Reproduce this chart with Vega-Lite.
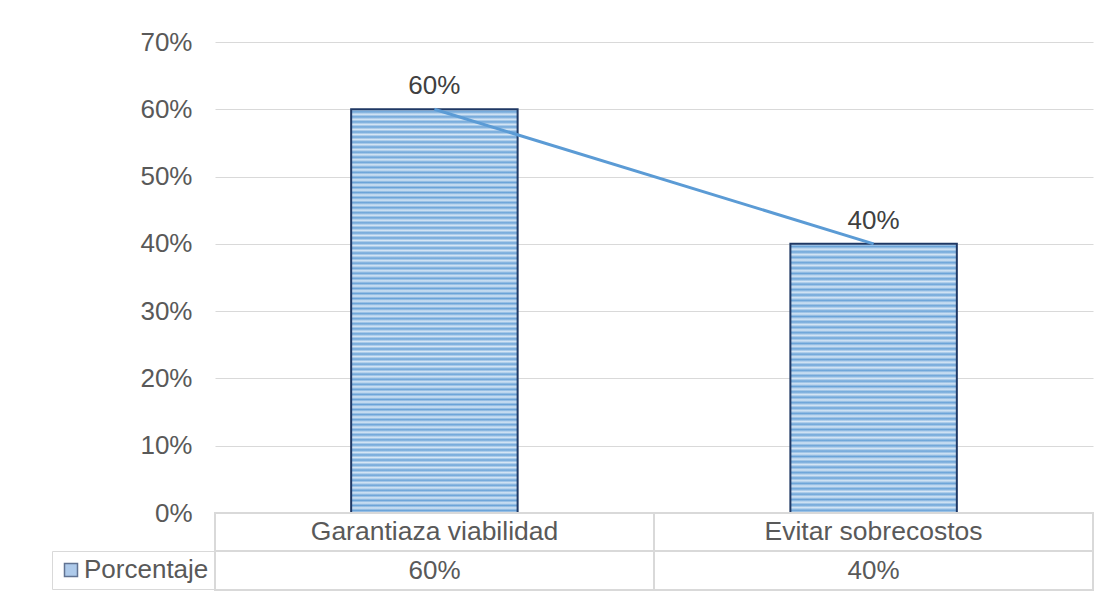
{
  "$schema": "https://vega.github.io/schema/vega-lite/v6.json",
  "background": "white",
  "padding": {"left": 51, "top": 29, "right": 20, "bottom": 4},
  "bounds": "flush",
  "spacing": 0,
  "resolve": {"legend": {"shape": "independent"}},
  "data": {"values": [
    {"categoria": "Garantiaza viabilidad", "valor": 0.6},
    {"categoria": "Evitar sobrecostos", "valor": 0.4}
  ]},
  "config": {"view": {"stroke": null}, "font": "Liberation Sans"},
  "vconcat": [
    {
      "width": 878,
      "height": 471,
      "encoding": {
        "x": {"field": "categoria", "type": "nominal", "sort": null,
              "scale": {"paddingInner": 0.621, "paddingOuter": 0.31}, "axis": null},
        "y": {"field": "valor", "type": "quantitative",
              "scale": {"domain": [0, 0.7]},
              "axis": {"values": [0, 0.1, 0.2, 0.3, 0.4, 0.5, 0.6, 0.7], "format": ".0%",
                       "grid": true, "gridColor": "#D9D9D9", "gridWidth": 1,
                       "domain": false, "ticks": false, "labelPadding": 23,
                       "labelFontSize": 26, "labelColor": "#595959", "title": null}}
      },
      "layer": [
        {"transform": [{"filter": "datum.valor == 0.6"}],
         "mark": {"type": "bar", "stroke": "#1F3864", "strokeWidth": 2,
                  "fill": {"gradient": "linear", "x1": 0, "y1": 0, "x2": 0, "y2": 1, "stops": [
{"offset":0,"color":"#D6E6F5"},{"offset":0.00625,"color":"#6AA3D8"},{"offset":0.0125,"color":"#D6E6F5"},{"offset":0.01875,"color":"#6AA3D8"},
{"offset":0.025,"color":"#D6E6F5"},{"offset":0.03125,"color":"#6AA3D8"},{"offset":0.0375,"color":"#D6E6F5"},{"offset":0.04375,"color":"#6AA3D8"},
{"offset":0.05,"color":"#D6E6F5"},{"offset":0.05625,"color":"#6AA3D8"},{"offset":0.0625,"color":"#D6E6F5"},{"offset":0.06875,"color":"#6AA3D8"},
{"offset":0.075,"color":"#D6E6F5"},{"offset":0.08125,"color":"#6AA3D8"},{"offset":0.0875,"color":"#D6E6F5"},{"offset":0.09375,"color":"#6AA3D8"},
{"offset":0.1,"color":"#D6E6F5"},{"offset":0.10625,"color":"#6AA3D8"},{"offset":0.1125,"color":"#D6E6F5"},{"offset":0.11875,"color":"#6AA3D8"},
{"offset":0.125,"color":"#D6E6F5"},{"offset":0.13125,"color":"#6AA3D8"},{"offset":0.1375,"color":"#D6E6F5"},{"offset":0.14375,"color":"#6AA3D8"},
{"offset":0.15,"color":"#D6E6F5"},{"offset":0.15625,"color":"#6AA3D8"},{"offset":0.1625,"color":"#D6E6F5"},{"offset":0.16875,"color":"#6AA3D8"},
{"offset":0.175,"color":"#D6E6F5"},{"offset":0.18125,"color":"#6AA3D8"},{"offset":0.1875,"color":"#D6E6F5"},{"offset":0.19375,"color":"#6AA3D8"},
{"offset":0.2,"color":"#D6E6F5"},{"offset":0.20625,"color":"#6AA3D8"},{"offset":0.2125,"color":"#D6E6F5"},{"offset":0.21875,"color":"#6AA3D8"},
{"offset":0.225,"color":"#D6E6F5"},{"offset":0.23125,"color":"#6AA3D8"},{"offset":0.2375,"color":"#D6E6F5"},{"offset":0.24375,"color":"#6AA3D8"},
{"offset":0.25,"color":"#D6E6F5"},{"offset":0.25625,"color":"#6AA3D8"},{"offset":0.2625,"color":"#D6E6F5"},{"offset":0.26875,"color":"#6AA3D8"},
{"offset":0.275,"color":"#D6E6F5"},{"offset":0.28125,"color":"#6AA3D8"},{"offset":0.2875,"color":"#D6E6F5"},{"offset":0.29375,"color":"#6AA3D8"},
{"offset":0.3,"color":"#D6E6F5"},{"offset":0.30625,"color":"#6AA3D8"},{"offset":0.3125,"color":"#D6E6F5"},{"offset":0.31875,"color":"#6AA3D8"},
{"offset":0.325,"color":"#D6E6F5"},{"offset":0.33125,"color":"#6AA3D8"},{"offset":0.3375,"color":"#D6E6F5"},{"offset":0.34375,"color":"#6AA3D8"},
{"offset":0.35,"color":"#D6E6F5"},{"offset":0.35625,"color":"#6AA3D8"},{"offset":0.3625,"color":"#D6E6F5"},{"offset":0.36875,"color":"#6AA3D8"},
{"offset":0.375,"color":"#D6E6F5"},{"offset":0.38125,"color":"#6AA3D8"},{"offset":0.3875,"color":"#D6E6F5"},{"offset":0.39375,"color":"#6AA3D8"},
{"offset":0.4,"color":"#D6E6F5"},{"offset":0.40625,"color":"#6AA3D8"},{"offset":0.4125,"color":"#D6E6F5"},{"offset":0.41875,"color":"#6AA3D8"},
{"offset":0.425,"color":"#D6E6F5"},{"offset":0.43125,"color":"#6AA3D8"},{"offset":0.4375,"color":"#D6E6F5"},{"offset":0.44375,"color":"#6AA3D8"},
{"offset":0.45,"color":"#D6E6F5"},{"offset":0.45625,"color":"#6AA3D8"},{"offset":0.4625,"color":"#D6E6F5"},{"offset":0.46875,"color":"#6AA3D8"},
{"offset":0.475,"color":"#D6E6F5"},{"offset":0.48125,"color":"#6AA3D8"},{"offset":0.4875,"color":"#D6E6F5"},{"offset":0.49375,"color":"#6AA3D8"},
{"offset":0.5,"color":"#D6E6F5"},{"offset":0.50625,"color":"#6AA3D8"},{"offset":0.5125,"color":"#D6E6F5"},{"offset":0.51875,"color":"#6AA3D8"},
{"offset":0.525,"color":"#D6E6F5"},{"offset":0.53125,"color":"#6AA3D8"},{"offset":0.5375,"color":"#D6E6F5"},{"offset":0.54375,"color":"#6AA3D8"},
{"offset":0.55,"color":"#D6E6F5"},{"offset":0.55625,"color":"#6AA3D8"},{"offset":0.5625,"color":"#D6E6F5"},{"offset":0.56875,"color":"#6AA3D8"},
{"offset":0.575,"color":"#D6E6F5"},{"offset":0.58125,"color":"#6AA3D8"},{"offset":0.5875,"color":"#D6E6F5"},{"offset":0.59375,"color":"#6AA3D8"},
{"offset":0.6,"color":"#D6E6F5"},{"offset":0.60625,"color":"#6AA3D8"},{"offset":0.6125,"color":"#D6E6F5"},{"offset":0.61875,"color":"#6AA3D8"},
{"offset":0.625,"color":"#D6E6F5"},{"offset":0.63125,"color":"#6AA3D8"},{"offset":0.6375,"color":"#D6E6F5"},{"offset":0.64375,"color":"#6AA3D8"},
{"offset":0.65,"color":"#D6E6F5"},{"offset":0.65625,"color":"#6AA3D8"},{"offset":0.6625,"color":"#D6E6F5"},{"offset":0.66875,"color":"#6AA3D8"},
{"offset":0.675,"color":"#D6E6F5"},{"offset":0.68125,"color":"#6AA3D8"},{"offset":0.6875,"color":"#D6E6F5"},{"offset":0.69375,"color":"#6AA3D8"},
{"offset":0.7,"color":"#D6E6F5"},{"offset":0.70625,"color":"#6AA3D8"},{"offset":0.7125,"color":"#D6E6F5"},{"offset":0.71875,"color":"#6AA3D8"},
{"offset":0.725,"color":"#D6E6F5"},{"offset":0.73125,"color":"#6AA3D8"},{"offset":0.7375,"color":"#D6E6F5"},{"offset":0.74375,"color":"#6AA3D8"},
{"offset":0.75,"color":"#D6E6F5"},{"offset":0.75625,"color":"#6AA3D8"},{"offset":0.7625,"color":"#D6E6F5"},{"offset":0.76875,"color":"#6AA3D8"},
{"offset":0.775,"color":"#D6E6F5"},{"offset":0.78125,"color":"#6AA3D8"},{"offset":0.7875,"color":"#D6E6F5"},{"offset":0.79375,"color":"#6AA3D8"},
{"offset":0.8,"color":"#D6E6F5"},{"offset":0.80625,"color":"#6AA3D8"},{"offset":0.8125,"color":"#D6E6F5"},{"offset":0.81875,"color":"#6AA3D8"},
{"offset":0.825,"color":"#D6E6F5"},{"offset":0.83125,"color":"#6AA3D8"},{"offset":0.8375,"color":"#D6E6F5"},{"offset":0.84375,"color":"#6AA3D8"},
{"offset":0.85,"color":"#D6E6F5"},{"offset":0.85625,"color":"#6AA3D8"},{"offset":0.8625,"color":"#D6E6F5"},{"offset":0.86875,"color":"#6AA3D8"},
{"offset":0.875,"color":"#D6E6F5"},{"offset":0.88125,"color":"#6AA3D8"},{"offset":0.8875,"color":"#D6E6F5"},{"offset":0.89375,"color":"#6AA3D8"},
{"offset":0.9,"color":"#D6E6F5"},{"offset":0.90625,"color":"#6AA3D8"},{"offset":0.9125,"color":"#D6E6F5"},{"offset":0.91875,"color":"#6AA3D8"},
{"offset":0.925,"color":"#D6E6F5"},{"offset":0.93125,"color":"#6AA3D8"},{"offset":0.9375,"color":"#D6E6F5"},{"offset":0.94375,"color":"#6AA3D8"},
{"offset":0.95,"color":"#D6E6F5"},{"offset":0.95625,"color":"#6AA3D8"},{"offset":0.9625,"color":"#D6E6F5"},{"offset":0.96875,"color":"#6AA3D8"},
{"offset":0.975,"color":"#D6E6F5"},{"offset":0.98125,"color":"#6AA3D8"},{"offset":0.9875,"color":"#D6E6F5"},{"offset":0.99375,"color":"#6AA3D8"},
{"offset":1,"color":"#D6E6F5"}
                  ]}}},
        {"transform": [{"filter": "datum.valor == 0.4"}],
         "mark": {"type": "bar", "stroke": "#1F3864", "strokeWidth": 2,
                  "fill": {"gradient": "linear", "x1": 0, "y1": 0, "x2": 0, "y2": 1, "stops": [
{"offset":0,"color":"#D6E6F5"},{"offset":0.01,"color":"#6AA3D8"},{"offset":0.02,"color":"#D6E6F5"},{"offset":0.03,"color":"#6AA3D8"},{"offset":0.04,"color":"#D6E6F5"},
{"offset":0.05,"color":"#6AA3D8"},{"offset":0.06,"color":"#D6E6F5"},{"offset":0.07,"color":"#6AA3D8"},{"offset":0.08,"color":"#D6E6F5"},{"offset":0.09,"color":"#6AA3D8"},
{"offset":0.1,"color":"#D6E6F5"},{"offset":0.11,"color":"#6AA3D8"},{"offset":0.12,"color":"#D6E6F5"},{"offset":0.13,"color":"#6AA3D8"},{"offset":0.14,"color":"#D6E6F5"},
{"offset":0.15,"color":"#6AA3D8"},{"offset":0.16,"color":"#D6E6F5"},{"offset":0.17,"color":"#6AA3D8"},{"offset":0.18,"color":"#D6E6F5"},{"offset":0.19,"color":"#6AA3D8"},
{"offset":0.2,"color":"#D6E6F5"},{"offset":0.21,"color":"#6AA3D8"},{"offset":0.22,"color":"#D6E6F5"},{"offset":0.23,"color":"#6AA3D8"},{"offset":0.24,"color":"#D6E6F5"},
{"offset":0.25,"color":"#6AA3D8"},{"offset":0.26,"color":"#D6E6F5"},{"offset":0.27,"color":"#6AA3D8"},{"offset":0.28,"color":"#D6E6F5"},{"offset":0.29,"color":"#6AA3D8"},
{"offset":0.3,"color":"#D6E6F5"},{"offset":0.31,"color":"#6AA3D8"},{"offset":0.32,"color":"#D6E6F5"},{"offset":0.33,"color":"#6AA3D8"},{"offset":0.34,"color":"#D6E6F5"},
{"offset":0.35,"color":"#6AA3D8"},{"offset":0.36,"color":"#D6E6F5"},{"offset":0.37,"color":"#6AA3D8"},{"offset":0.38,"color":"#D6E6F5"},{"offset":0.39,"color":"#6AA3D8"},
{"offset":0.4,"color":"#D6E6F5"},{"offset":0.41,"color":"#6AA3D8"},{"offset":0.42,"color":"#D6E6F5"},{"offset":0.43,"color":"#6AA3D8"},{"offset":0.44,"color":"#D6E6F5"},
{"offset":0.45,"color":"#6AA3D8"},{"offset":0.46,"color":"#D6E6F5"},{"offset":0.47,"color":"#6AA3D8"},{"offset":0.48,"color":"#D6E6F5"},{"offset":0.49,"color":"#6AA3D8"},
{"offset":0.5,"color":"#D6E6F5"},{"offset":0.51,"color":"#6AA3D8"},{"offset":0.52,"color":"#D6E6F5"},{"offset":0.53,"color":"#6AA3D8"},{"offset":0.54,"color":"#D6E6F5"},
{"offset":0.55,"color":"#6AA3D8"},{"offset":0.56,"color":"#D6E6F5"},{"offset":0.57,"color":"#6AA3D8"},{"offset":0.58,"color":"#D6E6F5"},{"offset":0.59,"color":"#6AA3D8"},
{"offset":0.6,"color":"#D6E6F5"},{"offset":0.61,"color":"#6AA3D8"},{"offset":0.62,"color":"#D6E6F5"},{"offset":0.63,"color":"#6AA3D8"},{"offset":0.64,"color":"#D6E6F5"},
{"offset":0.65,"color":"#6AA3D8"},{"offset":0.66,"color":"#D6E6F5"},{"offset":0.67,"color":"#6AA3D8"},{"offset":0.68,"color":"#D6E6F5"},{"offset":0.69,"color":"#6AA3D8"},
{"offset":0.7,"color":"#D6E6F5"},{"offset":0.71,"color":"#6AA3D8"},{"offset":0.72,"color":"#D6E6F5"},{"offset":0.73,"color":"#6AA3D8"},{"offset":0.74,"color":"#D6E6F5"},
{"offset":0.75,"color":"#6AA3D8"},{"offset":0.76,"color":"#D6E6F5"},{"offset":0.77,"color":"#6AA3D8"},{"offset":0.78,"color":"#D6E6F5"},{"offset":0.79,"color":"#6AA3D8"},
{"offset":0.8,"color":"#D6E6F5"},{"offset":0.81,"color":"#6AA3D8"},{"offset":0.82,"color":"#D6E6F5"},{"offset":0.83,"color":"#6AA3D8"},{"offset":0.84,"color":"#D6E6F5"},
{"offset":0.85,"color":"#6AA3D8"},{"offset":0.86,"color":"#D6E6F5"},{"offset":0.87,"color":"#6AA3D8"},{"offset":0.88,"color":"#D6E6F5"},{"offset":0.89,"color":"#6AA3D8"},
{"offset":0.9,"color":"#D6E6F5"},{"offset":0.91,"color":"#6AA3D8"},{"offset":0.92,"color":"#D6E6F5"},{"offset":0.93,"color":"#6AA3D8"},{"offset":0.94,"color":"#D6E6F5"},
{"offset":0.95,"color":"#6AA3D8"},{"offset":0.96,"color":"#D6E6F5"},{"offset":0.97,"color":"#6AA3D8"},{"offset":0.98,"color":"#D6E6F5"},{"offset":0.99,"color":"#6AA3D8"},
{"offset":1,"color":"#D6E6F5"}
                  ]}}},
        {"mark": {"type": "line", "color": "#5B9BD5", "strokeWidth": 3}},
        {"mark": {"type": "text", "baseline": "bottom", "dy": -10, "fontSize": 26, "color": "#404040"},
         "encoding": {"text": {"field": "valor", "type": "quantitative", "format": ".0%"}}}
      ]
    },
    {
      "width": 878,
      "height": 38,
      "encoding": {
        "x": {"field": "categoria", "type": "nominal", "sort": null,
              "scale": {"paddingInner": 0, "paddingOuter": 0}, "axis": null}
      },
      "layer": [
        {"mark": {"type": "rect", "fill": "white", "stroke": "#D9D9D9", "strokeWidth": 2}},
        {"mark": {"type": "text", "fontSize": 26.5, "color": "#595959"},
         "encoding": {"text": {"field": "categoria", "type": "nominal"}}}
      ]
    },
    {
      "width": 878,
      "height": 39,
      "encoding": {
        "x": {"field": "categoria", "type": "nominal", "sort": null,
              "scale": {"paddingInner": 0, "paddingOuter": 0}, "axis": null}
      },
      "layer": [
        {"mark": {"type": "rect", "fill": "white", "stroke": "#D9D9D9", "strokeWidth": 2}},
        {"mark": {"type": "text", "fontSize": 26, "color": "#595959"},
         "encoding": {"text": {"field": "valor", "type": "quantitative", "format": ".0%"}}},
        {"mark": {"type": "point", "filled": true, "size": 0, "fill": "#8DB4E2", "stroke": "#1F3864"},
         "encoding": {"shape": {"datum": "Porcentaje", "type": "nominal",
                                "scale": {"range": ["square"]},
                                "legend": {"orient": "left", "offset": 0, "title": null,
                                           "strokeColor": "#D9D9D9", "padding": 6,
                                           "symbolType": "square", "symbolSize": 169,
                                           "symbolOffset": 0, "labelOffset": 0, "labelFontSize": 26,
                                           "labelColor": "#595959", "labelFont": "Liberation Sans",
                                           "encode": {"symbols": {"update": {
                                             "fill": {"value": "#8DB4E2"},
                                             "stroke": {"value": "#1F3864"},
                                             "strokeWidth": {"value": 1.5},
                                             "opacity": {"value": 1}}}}}}}}
      ]
    }
  ]
}
